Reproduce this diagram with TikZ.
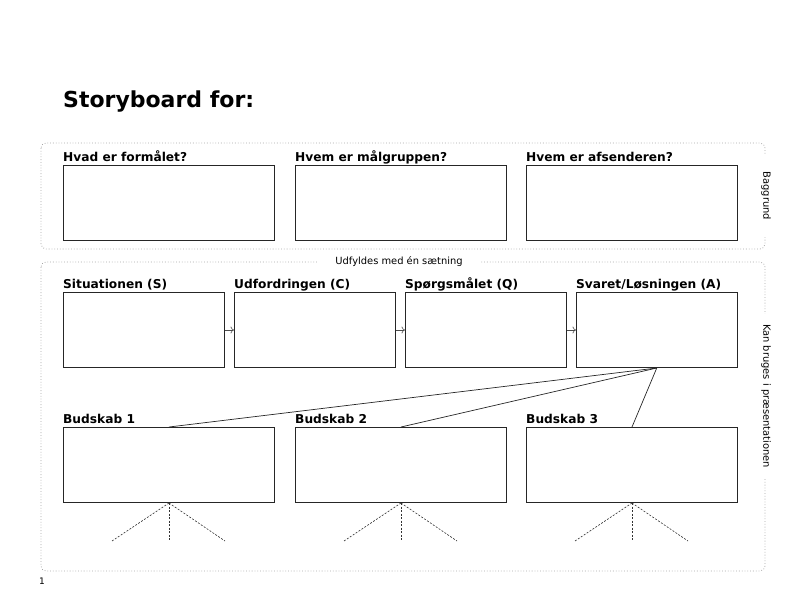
\documentclass[tikz,border=0pt]{standalone}
\usepackage{fontspec}
\setmainfont{DejaVu Sans}
\usepackage{tikz}
\usetikzlibrary{arrows.meta}

\tikzset{
  box/.style={draw=black!85, line width=1pt, minimum width=211pt, minimum height=75pt, inner sep=0pt, anchor=north west},
  smallbox/.style={box, minimum width=160.5pt},
  head/.style={anchor=base west, inner sep=0pt, font=\fontsize{12.2}{14}\selectfont\bfseries},
  frame/.style={draw=black!35, dotted, line width=0.8pt, rounded corners=5pt},
  framelabel/.style={fill=white, inner xsep=10pt, inner ysep=2pt, font=\fontsize{9.9}{12}\selectfont},
  fan/.style={black!80, line width=0.6pt, dash pattern=on 2pt off 1.5pt}
}

\begin{document}
\begin{tikzpicture}[x=1pt, y=-1pt]
            \useasboundingbox (0,0) rectangle (800,600);

            % Title
            \node[anchor=base west, inner sep=0pt, font=\fontsize{22}{26}\selectfont\bfseries] (title) at (63,107) {Storyboard for:};

            % Frames
            \draw[frame] (41,143) rectangle (765,249);
            \draw[frame] (41,262) rectangle (765,571);
            \node[framelabel, inner xsep=18pt] (udf) at (399,262) {Udfyldes med én sætning};
            \node[framelabel, rotate=-90, inner xsep=17pt] (bag) at (766,196) {Baggrund};
            \node[framelabel, rotate=-90] (kan) at (766,396) {Kan bruges i præsentationen};

            % Background boxes
            \node[box] (f) at (63,165) {};
            \node[head] at ([yshift=4pt]f.north west) {Hvad er formålet?};
            \node[box] (g) at (295,165) {};
            \node[head] at ([yshift=4pt]g.north west) {Hvem er målgruppen?};
            \node[box] (p) at (526,165) {};
            \node[head] at ([yshift=4pt]p.north west) {Hvem er afsenderen?};

            % SCQA boxes
            \node[smallbox] (s) at (63,292) {};
            \node[head] at ([yshift=4pt]s.north west) {Situationen (S)};
            \node[smallbox] (c) at (234,292) {};
            \node[head] at ([yshift=4pt]c.north west) {Udfordringen (C)};
            \node[smallbox] (q) at (405,292) {};
            \node[head] at ([yshift=4pt]q.north west) {Spørgsmålet (Q)};
            \node[smallbox] (a) at (576,292) {};
            \node[head] at ([yshift=4pt]a.north west) {Svaret/Løsningen (A)};

            \draw[-{To[length=3.5pt,width=7pt]}, black!70, line width=0.6pt] (s.east) -- (c.west);
            \draw[-{To[length=3.5pt,width=7pt]}, black!70, line width=0.6pt] (c.east) -- (q.west);
            \draw[-{To[length=3.5pt,width=7pt]}, black!70, line width=0.6pt] (q.east) -- (a.west);

            % Messages
            \node[box] (m1) at (63,427) {};
            \node[head] at ([yshift=4pt]m1.north west) {Budskab 1};
            \node[box] (m2) at (295,427) {};
            \node[head] at ([yshift=4pt]m2.north west) {Budskab 2};
            \node[box] (m3) at (526,427) {};
            \node[head] at ([yshift=4pt]m3.north west) {Budskab 3};

            \foreach \m in {m1,m2,m3} {
              \draw[black!85, line width=0.7pt] (a.south) -- (\m.north);
              % fan below each message
              \coordinate (\m l) at ([shift={(-57,38)}]\m.south);
              \coordinate (\m c) at ([shift={(0,38)}]\m.south);
              \coordinate (\m r) at ([shift={(56,38)}]\m.south);
              \draw[fan] (\m.south) -- (\m l);
              \draw[fan] (\m.south) -- (\m c);
              \draw[fan] (\m.south) -- (\m r);
            }

            % Page number
            \node[font=\fontsize{9}{10}\selectfont, inner sep=0pt] (pg) at (42,581) {1};
        \end{tikzpicture}
\end{document}
